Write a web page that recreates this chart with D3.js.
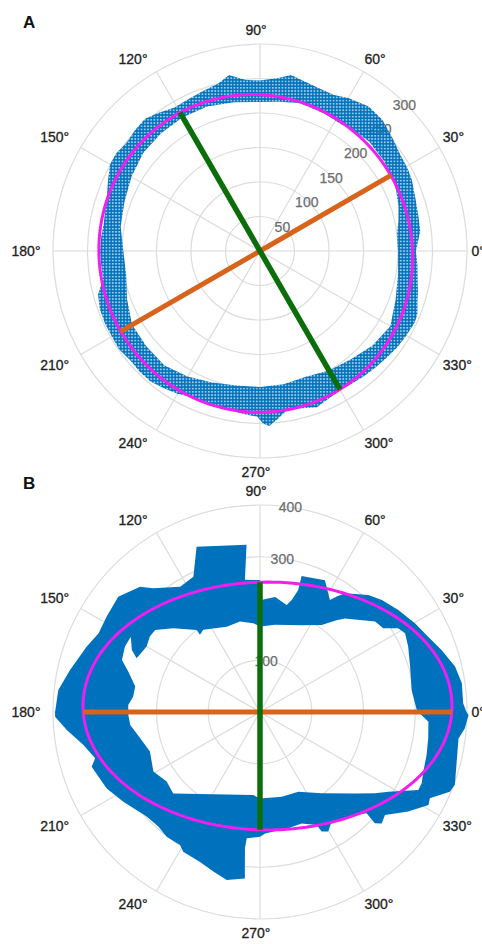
<!DOCTYPE html>
<html>
<head>
<meta charset="utf-8">
<script src="https://cdn.jsdelivr.net/npm/d3@7"></script>
<style>
  body { margin: 0; background: #fff; }
  text { font-family: "Liberation Sans", Arial, Helvetica, sans-serif; }
</style>
</head>
<body>
<svg id="chart" width="482" height="944"></svg>
<script>
// ---- shared angular axis ----
const thetaTicks = [0, 30, 60, 90, 120, 150, 180, 210, 240, 270, 300, 330];

// ---- panel A ----
const radialTicksA = [50, 100, 150, 200, 250, 300];
const rMaxA = 300;
// boundary of the scattered point cloud: [angle (deg), radius]
const cloudOuterA = [[0,226],[7,234],[12,235],[19,238],[25,243],[29,245],[35,247],[41,253],[47,260],[53,262],
  [60,256],[65,250],[72,252],[80,259],[84,252],[90,247],[95,249],[100,259],[104,250],[110,246],[116,243],
  [121,242],[126,248],[131,254],[136,252],[141,249],[146,252],[150,251],[155,243],[160,236],[165,232],
  [170,230],[175,231],[180,232],[185,231],[190,231],[195,243],[200,247],[205,248],[210,248],[215,249],
  [220,246],[225,247],[230,247],[235,243],[240,239],[245,234],[250,232],[255,234],[260,235],[265,238],
  [269,240],[271,250],[273,254],[276,245],[280,233],[285,236],[290,241],[295,236],[300,233],[305,234],
  [310,236],[315,238],[320,240],[325,243],[330,245],[335,247],[338,246],[342,240],[346,236],[350,232],[355,229]];
const cloudInnerA = [[0,200],[7,200],[12,205],[18,211],[24,216],[30,220],[36,222],[45,224],[50,222],[57,218],
  [65,220],[75,222],[83,218],[90,216],[100,219],[110,223],[120,224],[130,223],[140,221],[150,215],[160,209],
  [170,205],[180,198],[190,197],[200,205],[210,214],[220,215],[230,216],[240,210],[250,203],[260,198],
  [270,197],[280,196],[290,194],[300,200],[310,205],[320,213],[330,218],[340,209],[350,203]];
// fitted ellipse: centre (x, y), semi-axes [first, second], orientation of first axis (deg)
const fitCentreA = [-6.1, -3.5];
const fitAxesA = [226, 231.7];
const fitAngleA = 30;

// ---- panel B ----
const radialTicksB = [100, 200, 300, 400];
const rMaxB = 400;
const cloudOuterB = [[0,399],[2.4,393],[8.1,394],[13.1,387],[18.8,371],[24.1,356],[29.8,345],[36.4,332],
  [42.6,320],[47.2,308],[54.4,282],[56.4,268],[58,255],[63.8,284],[73,275],[72.6,247],[74.2,225],[76,213],
  [82.5,224],[90,216],[90,255],[96.5,257],[94.6,324],[111,342],[116.2,291.5],[122.5,287],[130.8,316],
  [133.8,335],[140.9,353],[148.1,349],[154,347],[159.4,358],[167.5,376],[173.8,392],[180,396],[181.3,396],
  [185.3,375],[190.6,347],[195.7,331],[198,342],[206.5,331],[213.3,316],[222.7,298],[228.4,296],[233.2,301],
  [239,300],[241.2,308],[248.2,312],[253.7,321],[258.8,331],[264.8,323],[263.7,265],[264,245.5],[270,241],
  [272.4,235],[283.7,231],[290.5,230],[296.6,244],[297.3,260],[299.7,266],[303.2,253],[312.7,271],
  [316.5,284],[315.9,309],[317.5,319],[320.5,313],[326.1,345],[331.1,372],[333.1,368],[337.2,398],
  [339.5,402],[352.4,387],[355.4,397],[359.2,403]];
const cloudInnerB = [[0.7,303],[3.2,300],[8.25,296],[16.8,303],[23.8,313],[28.5,319],[31.2,312],[34.2,288],
  [38.2,283],[47.8,244],[50.2,231],[54.7,206],[64.4,186],[80.2,171],[90,165],[94.3,172],[102.5,179],
  [111.3,177],[124.6,193],[127.9,189],[127.7,200],[136,233],[142,257],[145.6,258],[150,253],[156.5,260],
  [154.2,275],[149.8,289],[154.2,290],[159.4,285],[163,266],[168.5,246],[173.1,247],[177,255],[181.3,254.5],
  [185.7,252],[192.4,237],[199.8,226],[209.2,236],[216.7,225],[223.2,230],[265.4,161],[270,167],[284.4,169],
  [295.7,171],[307.2,197],[319.4,242],[324.7,272],[328.2,292],[333.8,341],[336.2,341.5],[339.9,336],
  [345.5,332.5],[351.1,329],[356.7,326],[0,306]];
const fitCentreB = [14.5, 11.6];
const fitAxesB = [356.5, 239.5];
const fitAngleB = 0;

// ---- styling ----
const OUTER_R = 207;
const LABEL_R = 214;
const GRID = "#dcdcdc";
const POINT_BLUE = "#0072BD";
const FIT_MAGENTA = "#f01ef0";
const AXIS1 = "#D8641C";
const AXIS2 = "#0b6e0b";

const svg = d3.select("#chart");
const defs = svg.append("defs");
const pat = defs.append("pattern").attr("id", "dots")
  .attr("patternUnits", "userSpaceOnUse").attr("width", 3.2).attr("height", 3.2);
pat.append("circle").attr("cx", 1.6).attr("cy", 1.6).attr("r", 1.62).attr("fill", POINT_BLUE);

const toRad = d => d * Math.PI / 180;
// d3 radial angle: clockwise from 12 o'clock; polar angle: counter-clockwise from 3 o'clock
const d3Angle = deg => toRad(90 - deg);

function ellipsePoints(c, ax, phiDeg) {
  const phi = toRad(phiDeg), pts = [];
  for (let i = 0; i <= 360; i += 2) {
    const t = toRad(i);
    const ex = ax[0] * Math.cos(t), ey = ax[1] * Math.sin(t);
    const x = c[0] + ex * Math.cos(phi) - ey * Math.sin(phi);
    const y = c[1] + ex * Math.sin(phi) + ey * Math.cos(phi);
    pts.push([Math.atan2(y, x) * 180 / Math.PI, Math.hypot(x, y)]);
  }
  return pts;
}

// distance from the origin to the ellipse along direction deg
function rayToEllipse(deg, c, ax, phiDeg) {
  const phi = toRad(phiDeg), th = toRad(deg);
  const ux = Math.cos(th), uy = Math.sin(th);
  const rot = (x, y) => [x * Math.cos(phi) + y * Math.sin(phi), -x * Math.sin(phi) + y * Math.cos(phi)];
  const [du, dv] = rot(ux, uy);
  const [cu, cv] = rot(-c[0], -c[1]);
  const A = (du / ax[0]) ** 2 + (dv / ax[1]) ** 2;
  const B = 2 * (cu * du / ax[0] ** 2 + cv * dv / ax[1] ** 2);
  const C = (cu / ax[0]) ** 2 + (cv / ax[1]) ** 2 - 1;
  return (-B + Math.sqrt(B * B - 4 * A * C)) / (2 * A);
}

function drawPanel(cfg) {
  const g = svg.append("g").attr("transform", `translate(${cfg.cx},${cfg.cy})`);
  const r = d3.scaleLinear().domain([0, cfg.rMax]).range([0, OUTER_R]);
  const radial = d3.lineRadial().angle(d => d3Angle(d[0])).radius(d => r(d[1])).curve(d3.curveLinearClosed);
  const radialOpen = d3.lineRadial().angle(d => d3Angle(d[0])).radius(d => r(d[1]));

  // grid
  g.selectAll("circle.ring").data(cfg.rTicks).join("circle")
    .attr("r", d => r(d)).attr("fill", "none").attr("stroke", GRID).attr("stroke-width", 1.2);
  g.selectAll("line.spoke").data(thetaTicks).join("line")
    .attr("x1", 0).attr("y1", 0)
    .attr("x2", d => OUTER_R * Math.cos(toRad(d)))
    .attr("y2", d => -OUTER_R * Math.sin(toRad(d)))
    .attr("stroke", GRID).attr("stroke-width", 1.2);

  // radial tick labels
  g.selectAll("text.rtick").data(cfg.rTicks).join("text")
    .attr("x", d => r(d) * Math.cos(toRad(cfg.rLabelAngle)) - 2)
    .attr("y", d => -r(d) * Math.sin(toRad(cfg.rLabelAngle)))
    .attr("dy", "0.35em").attr("text-anchor", "middle")
    .attr("font-size", 14).attr("fill", "#6e6e6e")
    .attr("stroke", "#6e6e6e").attr("stroke-width", 0.25)
    .text(d => d);

  // point cloud
  g.append("path")
    .attr("d", radial(cfg.outer) + radial(cfg.inner))
    .attr("fill-rule", "evenodd")
    .attr("fill", cfg.fill);

  // fitted ellipse
  g.append("path").attr("d", radial(ellipsePoints(cfg.centre, cfg.axes, cfg.angle)))
    .attr("fill", "none").attr("stroke", FIT_MAGENTA).attr("stroke-width", 3);

  // axes of the ellipse through the origin
  const axisLine = (deg, colour, w) => {
    const a = rayToEllipse(deg, cfg.centre, cfg.axes, cfg.angle);
    const b = rayToEllipse(deg + 180, cfg.centre, cfg.axes, cfg.angle);
    g.append("path").attr("d", radialOpen([[deg, a], [deg, 0], [deg + 180, b]]))
      .attr("fill", "none").attr("stroke", colour).attr("stroke-width", w);
  };
  axisLine(cfg.angle, AXIS1, 5);
  axisLine(cfg.angle + 90, AXIS2, 5.5);

  // angular labels, aligned away from the outer circle
  g.selectAll("text.ttick").data(thetaTicks).join("text")
    .attr("font-size", 14).attr("fill", "#222")
    .attr("stroke", "#222").attr("stroke-width", 0.3)
    .attr("text-anchor", d => {
      const c = Math.cos(toRad(d));
      return c > 0.01 ? "start" : c < -0.01 ? "end" : "middle";
    })
    .attr("dy", d => {
      const s = Math.sin(toRad(d));
      return s > 0.01 ? "-0.12em" : s < -0.01 ? "0.84em" : "0.36em";
    })
    .attr("x", d => {
      const c = Math.cos(toRad(d));
      const shift = c > 0.01 ? -2.5 : c < -0.01 ? -5.5 : -4;
      return LABEL_R * c + shift;
    })
    .attr("y", d => -LABEL_R * Math.sin(toRad(d)))
    .text(d => d + "\u00B0");

  svg.append("text").attr("x", cfg.cx - 237).attr("y", cfg.cy - 223)
    .attr("font-size", 17).attr("font-weight", "bold").attr("fill", "#111").text(cfg.tag);
}

drawPanel({cx: 260, cy: 251, rMax: rMaxA, rTicks: radialTicksA, rLabelAngle: 45,
  outer: cloudOuterA, inner: cloudInnerA, fill: "url(#dots)",
  centre: fitCentreA, axes: fitAxesA, angle: fitAngleA, tag: "A"});
drawPanel({cx: 260, cy: 712, rMax: rMaxB, rTicks: radialTicksB, rLabelAngle: 81,
  outer: cloudOuterB, inner: cloudInnerB, fill: POINT_BLUE,
  centre: fitCentreB, axes: fitAxesB, angle: fitAngleB, tag: "B"});
</script>
</body>
</html>
